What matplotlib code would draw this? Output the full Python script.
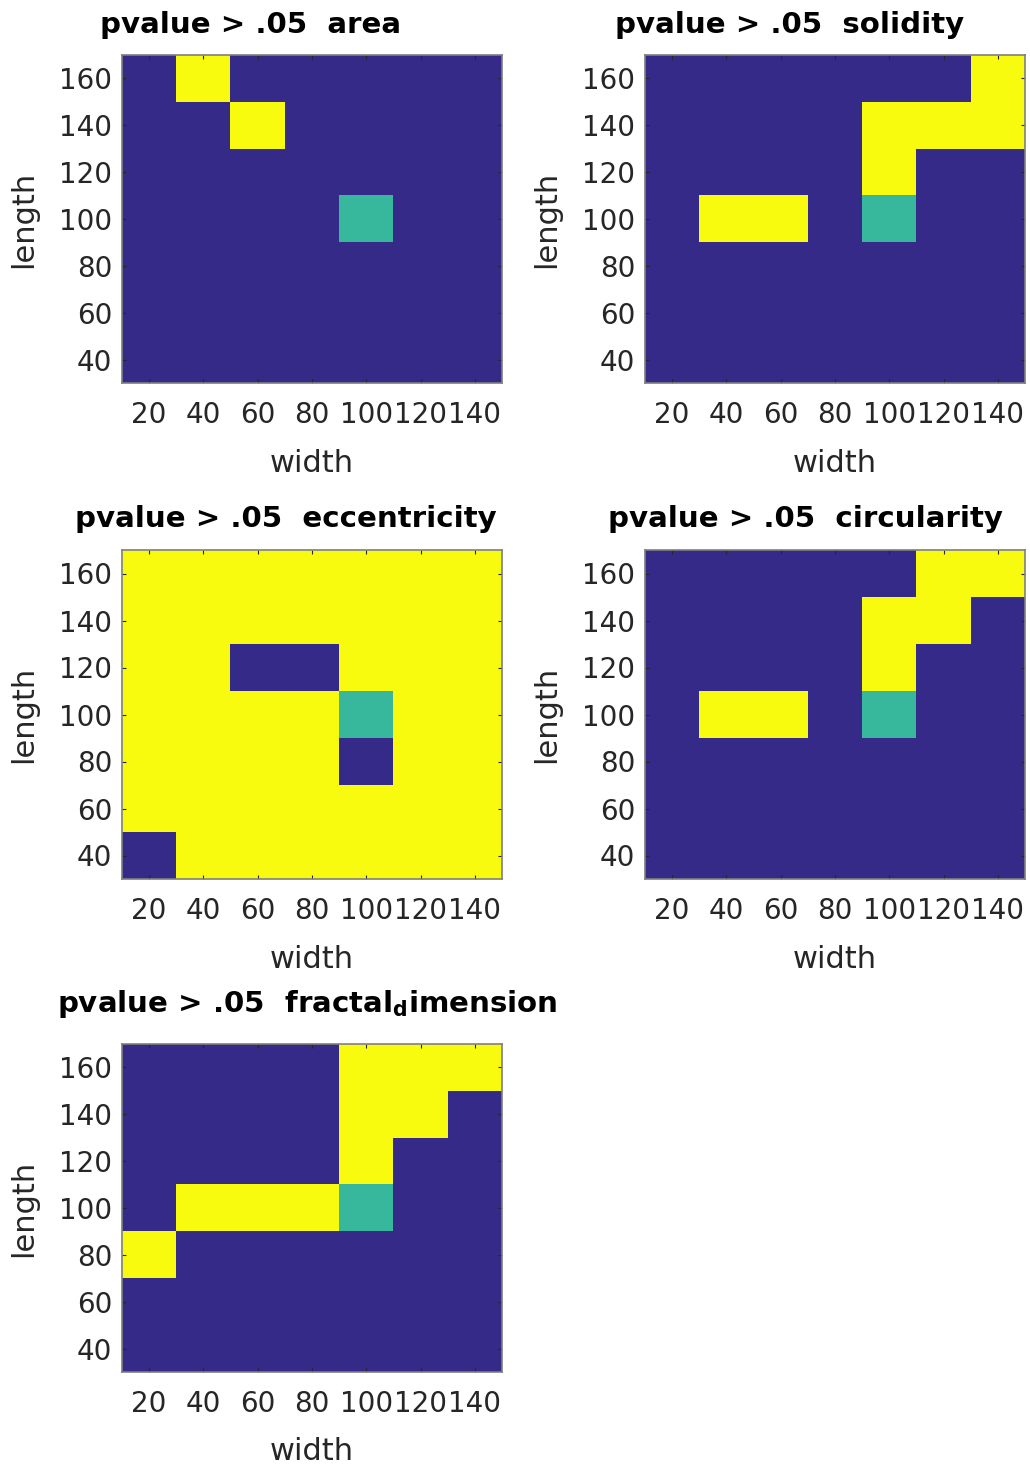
import numpy as np
import matplotlib
matplotlib.use("Agg")
import matplotlib.pyplot as plt
from matplotlib.colors import ListedColormap, BoundaryNorm

plt.rcParams['font.family'] = ['DejaVu Sans']

widths = [20, 40, 60, 80, 100, 120, 140]
lengths = [160, 140, 120, 100, 80, 60, 40]  # rows top to bottom
x_ticks = [20, 40, 60, 80, 100, 120, 140]
y_ticks = [40, 60, 80, 100, 120, 140, 160]

# 0 = pvalue <= .05, 1 = pvalue > .05, 2 = reference cell
area = [
    [0, 1, 0, 0, 0, 0, 0],
    [0, 0, 1, 0, 0, 0, 0],
    [0, 0, 0, 0, 0, 0, 0],
    [0, 0, 0, 0, 2, 0, 0],
    [0, 0, 0, 0, 0, 0, 0],
    [0, 0, 0, 0, 0, 0, 0],
    [0, 0, 0, 0, 0, 0, 0],
]
solidity = [
    [0, 0, 0, 0, 0, 0, 1],
    [0, 0, 0, 0, 1, 1, 1],
    [0, 0, 0, 0, 1, 0, 0],
    [0, 1, 1, 0, 2, 0, 0],
    [0, 0, 0, 0, 0, 0, 0],
    [0, 0, 0, 0, 0, 0, 0],
    [0, 0, 0, 0, 0, 0, 0],
]
eccentricity = [
    [1, 1, 1, 1, 1, 1, 1],
    [1, 1, 1, 1, 1, 1, 1],
    [1, 1, 0, 0, 1, 1, 1],
    [1, 1, 1, 1, 2, 1, 1],
    [1, 1, 1, 1, 0, 1, 1],
    [1, 1, 1, 1, 1, 1, 1],
    [0, 1, 1, 1, 1, 1, 1],
]
circularity = [
    [0, 0, 0, 0, 0, 1, 1],
    [0, 0, 0, 0, 1, 1, 0],
    [0, 0, 0, 0, 1, 0, 0],
    [0, 1, 1, 0, 2, 0, 0],
    [0, 0, 0, 0, 0, 0, 0],
    [0, 0, 0, 0, 0, 0, 0],
    [0, 0, 0, 0, 0, 0, 0],
]
fractal_dimension = [
    [0, 0, 0, 0, 1, 1, 1],
    [0, 0, 0, 0, 1, 1, 0],
    [0, 0, 0, 0, 1, 0, 0],
    [0, 1, 1, 1, 2, 0, 0],
    [1, 0, 0, 0, 0, 0, 0],
    [0, 0, 0, 0, 0, 0, 0],
    [0, 0, 0, 0, 0, 0, 0],
]

titles = [
    "pvalue > .05  area",
    "pvalue > .05  solidity",
    "pvalue > .05  eccentricity",
    "pvalue > .05  circularity",
    r"pvalue > .05  fractal$_{\mathbf{d}}$imension",
]
datasets = [area, solidity, eccentricity, circularity, fractal_dimension]

cmap = ListedColormap(["#352a87", "#f9fb0e", "#37b89d"])
norm = BoundaryNorm([-0.5, 0.5, 1.5, 2.5], cmap.N)

W, H = 1030, 1466
fig = plt.figure(figsize=(W / 100, H / 100), dpi=100)

# pixel boxes: left, top, right, bottom
boxes = [
    (122, 55, 502, 383),
    (645, 55, 1025, 383),
    (122, 550, 502, 879),
    (645, 550, 1025, 879),
    (122, 1044, 502, 1372),
]
# title anchor (left x, baseline y) in pixels
title_pos = [(100, 33), (615, 33), (75, 527), (608, 527), (57, 1012)]

dw = widths[1] - widths[0]
dl = lengths[0] - lengths[1]
extent = [widths[0] - dw / 2, widths[-1] + dw / 2,
          lengths[-1] - dl / 2, lengths[0] + dl / 2]

edge = "#262626"
for data, title, (l, t, r, b), (tx, ty) in zip(datasets, titles, boxes, title_pos):
    ax = fig.add_axes([l / W, (H - b) / H, (r - l) / W, (b - t) / H])
    ax.imshow(np.array(data), cmap=cmap, norm=norm, origin="upper",
              extent=extent, aspect="auto", interpolation="nearest")
    ax.set_xticks(x_ticks)
    ax.set_yticks(y_ticks)
    ax.tick_params(direction="in", length=3, width=0.8, top=True, right=True,
                   labelsize=20, colors=edge)
    ax.tick_params(axis="x", pad=13)
    ax.tick_params(axis="y", pad=7)
    for s in ax.spines.values():
        s.set_color("#7f7f7f")
        s.set_linewidth(1.2)
    ax.set_xlabel("width", fontsize=22, color=edge, labelpad=14)
    ax.set_ylabel("length", fontsize=22, color=edge, labelpad=15)
    fig.text(tx / W, (H - ty) / H, title, fontsize=21.1, fontweight="bold",
             color="black", ha="left", va="baseline")

fig.savefig("out.png", dpi=100, facecolor="white")
